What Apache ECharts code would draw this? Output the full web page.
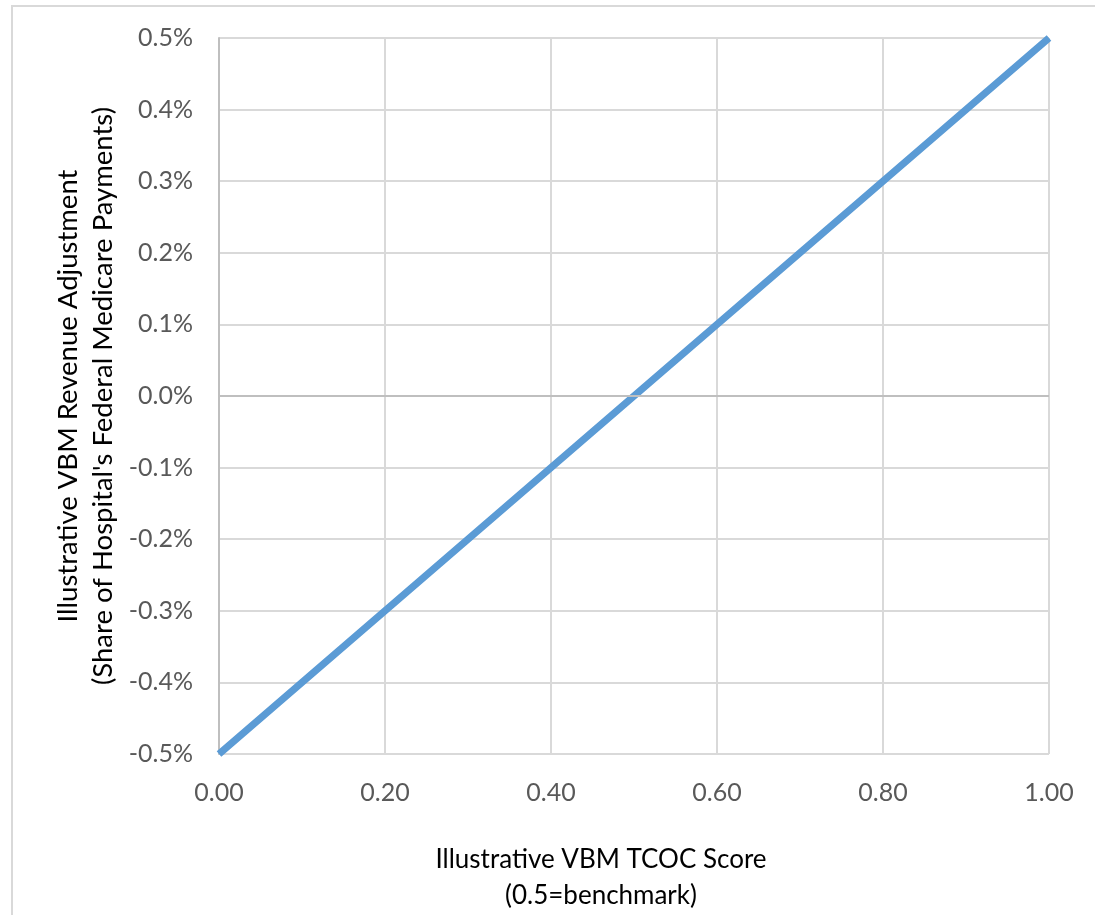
<!DOCTYPE html>
<html><head><meta charset="utf-8">
<script src="https://cdn.jsdelivr.net/npm/echarts@6/dist/echarts.min.js"></script>
<style>html,body{margin:0;padding:0;background:#fff}#c{width:1095px;height:915px}</style>
</head><body><div id="c"></div>
<script>
const scoreValues = [0, 0.5, 1];
const adjustmentValues = [-0.5, 0, 0.5];
const xTitleLines = ['Illustrative VBM TCOC Score', '(0.5=benchmark)'];
const yTitleLines = ['Illustrative VBM Revenue Adjustment', "(Share of Hospital's Federal Medicare Payments)"];

const FONT = 'Lato';
const chart = echarts.init(document.getElementById('c'));
chart.setOption({
  animation: false,
  grid: {left: 219, right: 46, top: 38, bottom: 161, containLabel: false},
  xAxis: {
    type: 'value', min: 0, max: 1, interval: 0.2,
    axisLine: {show: false}, axisTick: {show: false},
    axisLabel: {color: '#595959', fontFamily: FONT, fontSize: 25, margin: 26,
      formatter: v => v.toFixed(2)},
    splitLine: {show: true, lineStyle: {color: '#d9d9d9', width: 2}}
  },
  yAxis: {
    type: 'value', min: -0.5, max: 0.5, interval: 0.1,
    axisLine: {show: true, lineStyle: {color: '#bfbfbf', width: 2}}, axisTick: {show: false},
    axisLabel: {color: '#595959', fontFamily: FONT, fontSize: 25, margin: 26,
      formatter: v => (Math.round(v * 10) / 10).toFixed(1) + '%'},
    splitLine: {show: true, lineStyle: {color: '#d9d9d9', width: 2}}
  },
  graphic: [
    {type: 'rect', shape: {x: 12, y: 6, width: 1200, height: 1000}, style: {fill: 'none', stroke: '#d9d9d9', lineWidth: 2}, z: -10},
    {type: 'text', x: 601, y: 878, style: {text: xTitleLines.join('\n'), font: '26px Lato', fill: '#000', align: 'center', verticalAlign: 'middle', lineHeight: 36}},
    {type: 'text', x: 86, y: 396, rotation: Math.PI / 2, style: {text: yTitleLines.join('\n'), font: '27.5px Lato', fill: '#000', align: 'center', verticalAlign: 'middle', lineHeight: 35}}
  ],
  series: [
    {type: 'line', data: [], z: 1, silent: true,
      markLine: {silent: true, symbol: 'none', label: {show: false},
        lineStyle: {color: '#bfbfbf', width: 2, type: 'solid'}, data: [{yAxis: 0}]}},
    {type: 'line', z: 3, showSymbol: false, symbol: 'none',
      data: scoreValues.map((x, i) => [x, adjustmentValues[i]]),
      lineStyle: {color: '#5b9bd5', width: 7, cap: 'butt'}}
  ]
});
</script></body></html>
